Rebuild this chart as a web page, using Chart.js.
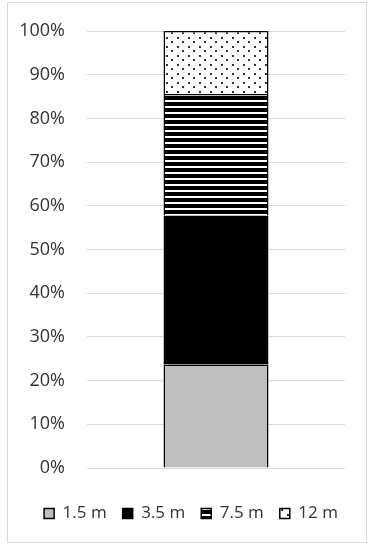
<!DOCTYPE html>
<html>
<head>
<meta charset="utf-8">
<script src="https://cdn.jsdelivr.net/npm/chart.js@4"></script>
<style>
    body { margin: 0; background: #fff; }
    #wrap { width: 374px; height: 550px; position: relative; }
</style>
</head>
<body>
<div id="wrap"><canvas id="chart"></canvas></div>
<script>
var categories = [''];
var seriesNames = ['1.5 m', '3.5 m', '7.5 m', '12 m'];
var values15 = [23.7];
var values35 = [34.1];
var values75 = [27.8];
var values12 = [14.4];
var yTicks = [0, 10, 20, 30, 40, 50, 60, 70, 80, 90, 100];

// stripe pattern for 7.5 m
function stripes() {
    var c = document.createElement('canvas');
    c.width = 6; c.height = 6;
    var x = c.getContext('2d');
    x.fillStyle = '#000';
    x.fillRect(0, 0, 6, 6);
    x.fillStyle = '#fff';
    x.fillRect(0, 4, 6, 2);
    return x.createPattern(c, 'repeat');
}

// dot pattern for 12 m
function dots() {
    var c = document.createElement('canvas');
    c.width = 11; c.height = 9;
    var x = c.getContext('2d');
    x.fillStyle = '#fff';
    x.fillRect(0, 0, 11, 9);
    x.fillStyle = '#333';
    x.fillRect(1, 1, 2, 2);
    x.fillRect(6, 5, 2, 2);
    return x.createPattern(c, 'repeat');
}

var frame = {
    id: 'frame',
    afterDraw: function (chart) {
        var ctx = chart.ctx;
        ctx.save();
        ctx.strokeStyle = '#d9d9d9';
        ctx.lineWidth = 1;
        ctx.strokeRect(7.5, 2.5, 359, 540);
        ctx.restore();
    }
};

var common = {
    borderColor: '#000',
    borderWidth: 1.5,
    categoryPercentage: 1,
    barPercentage: 0.407
};

var tickFont = { family: 'Open Sans', size: 18, lineHeight: 1 };

new Chart(document.getElementById('chart'), {
    type: 'bar',
    data: {
        labels: categories,
        datasets: [
            Object.assign({ label: seriesNames[0], data: values15, backgroundColor: '#bfbfbf' }, common),
            Object.assign({ label: seriesNames[1], data: values35, backgroundColor: '#000' }, common),
            Object.assign({ label: seriesNames[2], data: values75, backgroundColor: stripes() }, common),
            Object.assign({ label: seriesNames[3], data: values12, backgroundColor: dots() }, common)
        ]
    },
    options: {
        responsive: true,
        maintainAspectRatio: false,
        animation: false,
        layout: { padding: { left: 8, right: 0, top: 11, bottom: 18 } },
        plugins: {
            tooltip: { enabled: false },
            legend: {
                position: 'bottom',
                labels: {
                    boxWidth: 10,
                    boxHeight: 10,
                    padding: 16,
                    color: '#333',
                    font: { family: 'Open Sans', size: 17 }
                }
            }
        },
        scales: {
            x: {
                stacked: true,
                grid: { display: false },
                border: { display: false },
                ticks: { display: false },
                afterFit: function (axis) { axis.height = 21; }
            },
            y: {
                stacked: true,
                min: 0,
                max: 100,
                afterBuildTicks: function (axis) {
                    axis.ticks = yTicks.map(function (v) { return { value: v }; });
                },
                afterFit: function (axis) { axis.width = 79; },
                border: { display: false },
                grid: { color: '#d9d9d9', drawTicks: false },
                ticks: {
                    padding: 22,
                    color: '#333',
                    font: tickFont,
                    callback: function (v) { return v + '%'; }
                }
            },
            y2: {
                position: 'right',
                grid: { display: false },
                border: { display: false },
                ticks: { display: false },
                afterFit: function (axis) { axis.width = 29; }
            }
        }
    },
    plugins: [frame]
});
</script>
</body>
</html>
